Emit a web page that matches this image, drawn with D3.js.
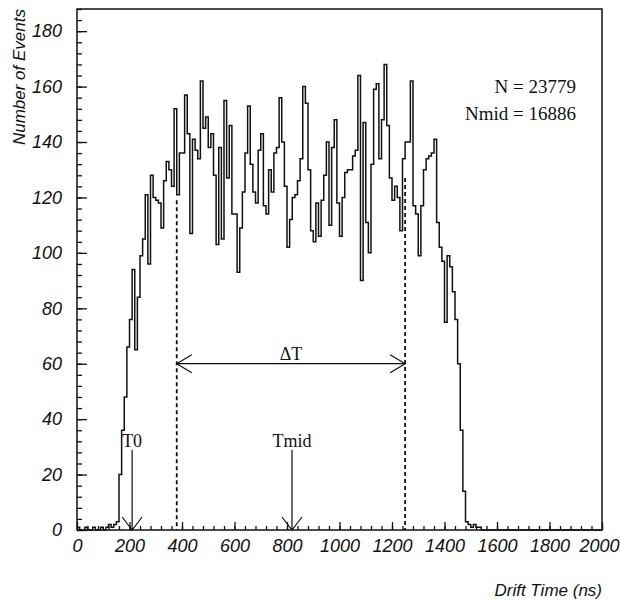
<!DOCTYPE html>
<html>
<head>
<meta charset="utf-8">
<script src="https://cdn.jsdelivr.net/npm/d3@7"></script>
<style>
  html, body { margin: 0; padding: 0; background: #fff; }
  svg { display: block; }
  .ax text { font-family: "Liberation Sans", "DejaVu Sans", sans-serif; font-style: italic; font-size: 18px; fill: #111; }
  .ax line { stroke: #111; stroke-width: 1.3; }
  .lab { font-family: "Liberation Sans", sans-serif; font-style: italic; font-size: 17px; fill: #111; }
  .note { font-family: "Liberation Serif", "DejaVu Serif", serif; fill: #111; }
</style>
</head>
<body>
<svg id="chart" width="620" height="601"></svg>
<script>
// drift-time histogram, 10 ns bins starting at 0 ns
const binWidth = 10;
const counts = [
  1, 0, 0, 1, 0, 0, 1, 0, 0, 1,
  0, 1, 2, 1, 2, 3, 20, 36, 48, 66,
  76, 94, 65, 84, 99, 105, 121, 96, 128, 120,
  119, 118, 109, 126, 133, 130, 124, 152, 121, 136,
  136, 157, 143, 107, 141, 137, 134, 162, 145, 149,
  138, 143, 128, 103, 138, 105, 155, 127, 146, 114,
  114, 93, 109, 122, 136, 153, 132, 122, 118, 137,
  143, 117, 114, 130, 122, 136, 138, 156, 140, 124,
  102, 112, 120, 121, 126, 134, 160, 154, 130, 108,
  104, 118, 106, 119, 128, 140, 110, 138, 148, 118,
  106, 120, 129, 130, 130, 135, 137, 164, 90, 147,
  111, 100, 132, 159, 161, 134, 148, 168, 146, 127,
  119, 124, 120, 108, 134, 140, 140, 162, 117, 114,
  99, 117, 130, 134, 135, 136, 141, 111, 102, 97,
  75, 99, 95, 86, 76, 60, 36, 14, 3, 2,
  1, 2, 1, 1, 0, 0, 0, 0, 0, 0,
  0, 0, 0, 0, 0, 0, 0, 0, 0, 0,
  0, 0, 0, 0, 0, 0, 0, 0, 0, 0,
  0, 0, 0, 0, 0, 0, 0, 0, 0, 0,
  0, 0, 0, 0, 0, 0, 0, 0, 0, 0
];

const xTickValues = [0, 200, 400, 600, 800, 1000, 1200, 1400, 1600, 1800, 2000];
const yTickValues = [0, 20, 40, 60, 80, 100, 120, 140, 160, 180];

// annotations (ns / counts)
const arrowMarks = [{ label: "T0", t: 210 }, { label: "Tmid", t: 819 }];
const windowEdges = [380, 1250];
const windowTops = [119, 127];
const deltaLevel = 60;
const statLines = ["N = 23779", "Nmid = 16886"];

const svg = d3.select("#chart");
const x = d3.scaleLinear().domain([0, 2000]).range([77, 602]);
const y = d3.scaleLinear().domain([0, 188]).range([530, 9]);

// minor ticks
svg.append("g").attr("class", "ax").attr("transform", `translate(0,${y(0)})`)
  .call(d3.axisBottom(x).tickValues(d3.range(0, 2001, 40)).tickSize(-4).tickFormat(""))
  .call((g) => g.select(".domain").remove());
svg.append("g").attr("class", "ax").attr("transform", `translate(${x(0)},0)`)
  .call(d3.axisLeft(y).tickValues(d3.range(0, 189, 4)).tickSize(-5).tickFormat(""))
  .call((g) => g.select(".domain").remove());

// major ticks + labels
svg.append("g").attr("class", "ax").attr("transform", `translate(0,${y(0)})`)
  .call(d3.axisBottom(x).tickValues(xTickValues).tickSize(-8).tickPadding(9).tickFormat(d3.format("d")))
  .call((g) => g.select(".domain").remove())
  .call((g) => g.selectAll(".tick text").filter((d) => d === 2000).attr("dx", -3));
svg.append("g").attr("class", "ax").attr("transform", `translate(${x(0)},0)`)
  .call(d3.axisLeft(y).tickValues(yTickValues).tickSize(-10).tickPadding(15).tickFormat(d3.format("d")))
  .call((g) => g.select(".domain").remove());

// frame
svg.append("rect")
  .attr("x", x(0)).attr("y", y(188))
  .attr("width", x(2000) - x(0)).attr("height", y(0) - y(188))
  .attr("fill", "none").attr("stroke", "#111").attr("stroke-width", 1.5);

// histogram
const pts = counts.map((c, i) => [i * binWidth, c]);
pts.push([counts.length * binWidth, counts[counts.length - 1]]);
svg.append("path")
  .attr("d", d3.line().x((d) => x(d[0])).y((d) => y(d[1])).curve(d3.curveStepAfter)(pts))
  .attr("fill", "none").attr("stroke", "#111").attr("stroke-width", 1.5);

// dashed window edges
windowEdges.forEach((t, i) => {
  svg.append("line")
    .attr("x1", x(t)).attr("x2", x(t)).attr("y1", y(windowTops[i])).attr("y2", y(0))
    .attr("stroke", "#111").attr("stroke-width", 1.8).attr("stroke-dasharray", "4,3");
});

// delta-T double arrow
const ay = y(deltaLevel), xa = x(windowEdges[0]), xb = x(windowEdges[1]);
const ah = 15, aw = 9;
svg.append("path")
  .attr("d", `M${xa},${ay}L${xb},${ay}` +
    `M${xa + ah},${ay - aw}L${xa},${ay}L${xa + ah},${ay + aw}` +
    `M${xb - ah},${ay - aw}L${xb},${ay}L${xb - ah},${ay + aw}`)
  .attr("fill", "none").attr("stroke", "#111").attr("stroke-width", 1.2);
svg.append("text").attr("class", "note")
  .attr("x", (xa + xb) / 2).attr("y", ay - 4).attr("text-anchor", "middle")
  .style("font-size", "18px").text("\u0394T");

// T0 / Tmid arrows
arrowMarks.forEach((m) => {
  const mx = x(m.t), y0 = y(0), top = y(29);
  svg.append("path")
    .attr("d", `M${mx},${top}L${mx},${y0}M${mx - 10},${y0 - 13}L${mx},${y0}L${mx + 10},${y0 - 13}`)
    .attr("fill", "none").attr("stroke", "#111").attr("stroke-width", 1.2);
  svg.append("text").attr("class", "note")
    .attr("x", mx).attr("y", top - 3).attr("text-anchor", "middle")
    .style("font-size", "18px").text(m.label);
});

// stats text
statLines.forEach((s, i) => {
  svg.append("text").attr("class", "note")
    .attr("x", 576).attr("y", 93 + i * 27).attr("text-anchor", "end")
    .style("font-size", "19px").text(s);
});

// axis titles
svg.append("text").attr("class", "lab")
  .attr("transform", `translate(25,${y(188)}) rotate(-90)`)
  .attr("text-anchor", "end").text("Number of Events");
svg.append("text").attr("class", "lab")
  .attr("x", 602).attr("y", 596).attr("text-anchor", "end").text("Drift Time (ns)");
</script>
</body>
</html>
